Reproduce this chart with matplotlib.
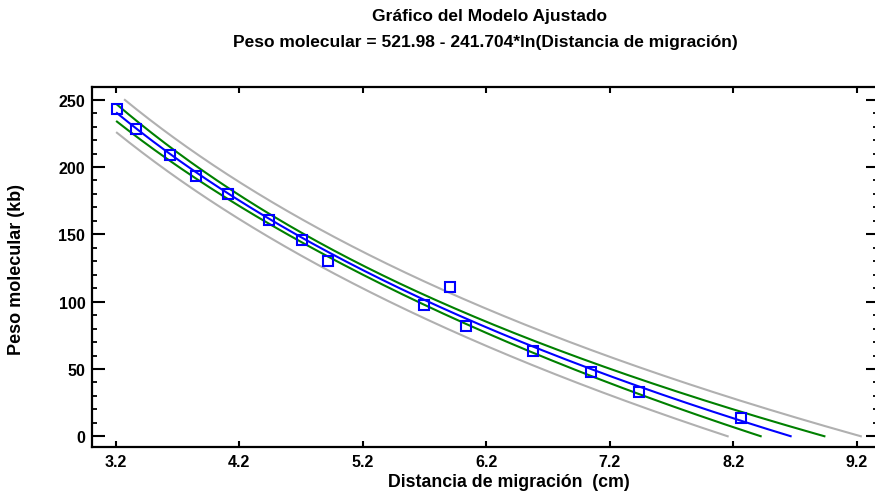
import numpy as np
import matplotlib
matplotlib.use("Agg")
import matplotlib.pyplot as plt
from matplotlib.ticker import MultipleLocator, FixedLocator

# ---- data ----
distancia = [3.21, 3.365, 3.64, 3.848, 4.112, 4.444, 4.708, 4.915,
             5.70, 5.905, 6.04, 6.575, 7.05, 7.44, 8.26]
peso = [243.0, 228.3, 209.0, 193.6, 180.0, 160.9, 145.6, 130.0,
        97.5, 111.0, 82.2, 63.2, 47.5, 32.7, 13.4]
intercept = 521.98
slope = -241.704
t_crit = 2.160  # t(0.975, n-2)
xticks = [3.2, 4.2, 5.2, 6.2, 7.2, 8.2, 9.2]
yticks = [0, 50, 100, 150, 200, 250]

plt.rcParams['font.family'] = ['Liberation Sans', 'DejaVu Sans']
plt.rcParams['font.weight'] = 'bold'

fig = plt.figure(figsize=(8.75, 5.02), dpi=100)
W, H = 875, 502
l, r, t, b = 92.3, 878.0, 88.3, 448.3
ax = fig.add_axes([l / W, 1 - b / H, (r - l) / W, (b - t) / H])

xd = np.array(distancia)
yd = np.array(peso)
X = np.log(xd)
n = len(xd)
resid = yd - (intercept + slope * X)
s = np.sqrt(np.sum(resid ** 2) / (n - 2))
Xbar = X.mean()
Sxx = np.sum((X - Xbar) ** 2)

xg = np.linspace(xd.min(), 9.35, 2000)
Xg = np.log(xg)
fit = intercept + slope * Xg
se_ci = t_crit * s * np.sqrt(1.0 / n + (Xg - Xbar) ** 2 / Sxx)
se_pi = t_crit * s * np.sqrt(1.0 + 1.0 / n + (Xg - Xbar) ** 2 / Sxx)

def clip(v):
    v = v.copy()
    v[(v < 0) | (v > 250)] = np.nan
    return v

lw = 1.5
ax.plot(xg, clip(fit + se_pi), color='#B0B0B0', lw=lw, zorder=2)
ax.plot(xg, clip(fit - se_pi), color='#B0B0B0', lw=lw, zorder=2)
ax.plot(xg, clip(fit + se_ci), color='#008000', lw=lw, zorder=3)
ax.plot(xg, clip(fit - se_ci), color='#008000', lw=lw, zorder=3)
ax.plot(xg, clip(fit), color='#0000FF', lw=lw, zorder=4)
ax.plot(xd, yd, linestyle='none', marker='s', ms=7, mfc='none',
        mec='#0000FF', mew=1.5, zorder=5)

x0 = 3.2 - (115.7 - l) / 123.5
x1 = 3.2 + (r - 115.7) / 123.5
ax.set_xlim(x0, x1)
ax.set_ylim(-(b - 437.3) / 1.346, 250 + (100.7 - t) / 1.346)

ax.xaxis.set_major_locator(FixedLocator(xticks))
ax.set_xticklabels([f"{v:.1f}" for v in xticks])
ax.yaxis.set_major_locator(FixedLocator(yticks))
ax.yaxis.set_minor_locator(MultipleLocator(10))

for sp in ax.spines.values():
    sp.set_linewidth(1.6)
ax.tick_params(axis='x', which='major', direction='in', length=4.5, width=1.5,
               top=True, bottom=True, labelsize=11.5, pad=5)
ax.tick_params(axis='y', which='major', direction='in', length=9, width=1.5,
               left=True, right=True, labelsize=11.5, pad=5)
ax.tick_params(axis='y', which='minor', direction='in', length=3.6, width=1.3,
               left=True, right=True)
for lab in ax.get_xticklabels() + ax.get_yticklabels():
    lab.set_fontweight('bold')

fig.text(509 / W, 1 - 483 / H, "Distancia de migración  (cm)", ha='center',
         va='center', fontsize=12.8, fontweight='bold')
fig.text(17 / W, 1 - 270 / H, "Peso molecular (kb)", ha='center', va='center',
         rotation=90, fontsize=13, fontweight='bold')
fig.text(489 / W, 1 - 17 / H, "Gráfico del Modelo Ajustado", ha='center',
         va='center', fontsize=12.5, fontweight='bold')
fig.text(485 / W, 1 - 42 / H,
         "Peso molecular = 521.98 - 241.704*ln(Distancia de migración)",
         ha='center', va='center', fontsize=12.5, fontweight='bold')

fig.savefig("out.png", dpi=100)
